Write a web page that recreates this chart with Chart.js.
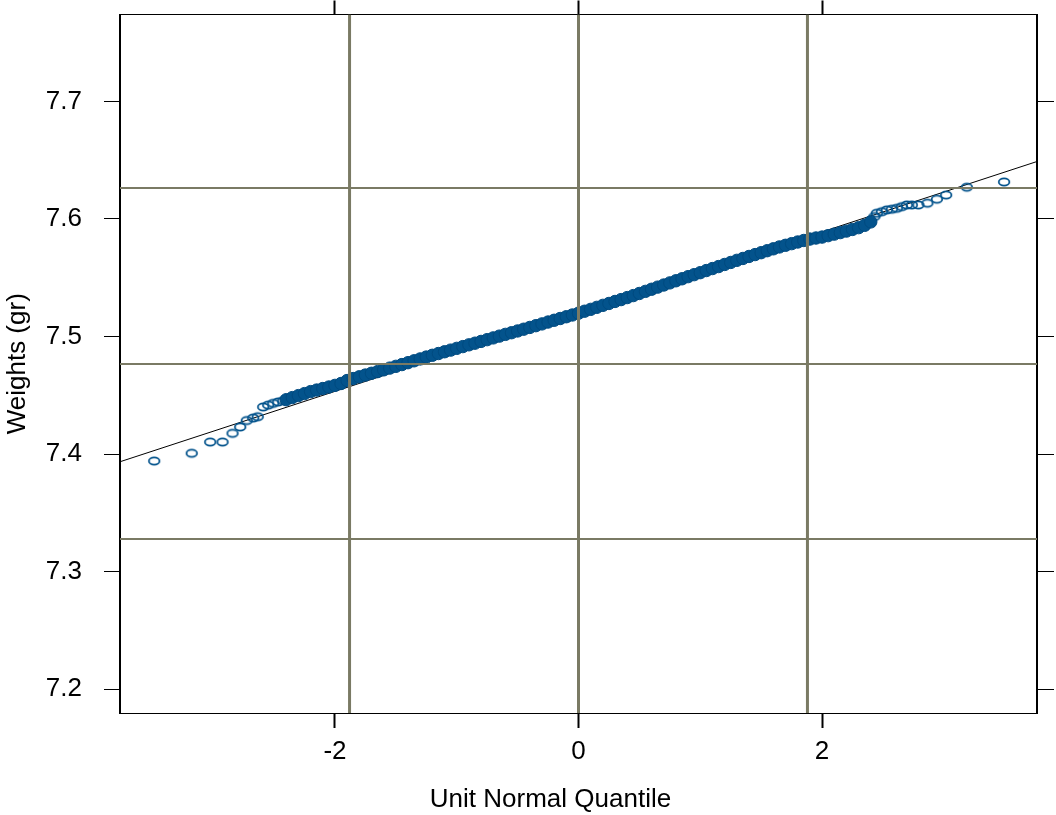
<!DOCTYPE html>
<html>
<head>
<meta charset="utf-8">
<script src="https://cdn.jsdelivr.net/npm/chart.js@4/dist/chart.umd.min.js"></script>
<style>
  html, body { margin: 0; padding: 0; background: #fff; }
  canvas { display: block; }
</style>
</head>
<body>
<canvas id="qq" width="1056" height="815"></canvas>
<script>
// axis setup
const xTicks = [-2, 0, 2];
const yTicks = [7.2, 7.3, 7.4, 7.5, 7.6, 7.7];
const xRange = [-3.765, 3.765];
const yRange = [7.1796, 7.774];

// reference lines (mean +/- sd style)
const refX = [-1.88, 0, 1.88];
const refY = [7.3277, 7.4766, 7.6264];

// fitted qq line end points
const lineX = [-3.765, 3.765];
const lineY = [7.3934, 7.6489];

// lower tail, single open circles
const lowTailX = [-3.484, -3.176, -3.024, -2.923, -2.841, -2.778, -2.724, -2.671, -2.634,
                  -2.589, -2.548, -2.507, -2.466, -2.424];
const lowTailY = [7.3940, 7.4006, 7.4102, 7.4102, 7.4176, 7.4230, 7.4285, 7.4306, 7.4317,
                  7.4400, 7.4416, 7.4431, 7.4443, 7.4454];

// dense middle band (read along the band)
const bandX = [-2.40, -2.35, -2.30, -2.25, -2.20, -2.15, -2.10, -2.05, -2.00, -1.95,
               -1.90, -1.85, -1.80, -1.75, -1.70, -1.65, -1.60, -1.55, -1.50, -1.45,
               -1.40, -1.35, -1.30, -1.25, -1.20, -1.15, -1.10, -1.05, -1.00, -0.95,
               -0.90, -0.85, -0.80, -0.75, -0.70, -0.65, -0.60, -0.55, -0.50, -0.45,
               -0.40, -0.35, -0.30, -0.25, -0.20, -0.15, -0.10, -0.05, 0.00, 0.05,
               0.10, 0.15, 0.20, 0.25, 0.30, 0.35, 0.40, 0.45, 0.50, 0.55,
               0.60, 0.65, 0.70, 0.75, 0.80, 0.85, 0.90, 0.95, 1.00, 1.05,
               1.10, 1.15, 1.20, 1.25, 1.30, 1.35, 1.40, 1.45, 1.50, 1.55,
               1.60, 1.65, 1.70, 1.75, 1.80, 1.85, 1.90, 1.95, 2.00, 2.05,
               2.10, 2.15, 2.20, 2.25, 2.30, 2.35, 2.40];
const bandY = [7.4462, 7.4480, 7.4497, 7.4514, 7.4531, 7.4544, 7.4557, 7.4570, 7.4584, 7.4600,
               7.4625, 7.4642, 7.4657, 7.4672, 7.4687, 7.4701, 7.4716, 7.4731, 7.4746, 7.4761,
               7.4777, 7.4793, 7.4809, 7.4825, 7.4840, 7.4855, 7.4870, 7.4884, 7.4899, 7.4914,
               7.4929, 7.4943, 7.4958, 7.4973, 7.4988, 7.5003, 7.5018, 7.5032, 7.5047, 7.5062,
               7.5077, 7.5092, 7.5107, 7.5123, 7.5138, 7.5153, 7.5168, 7.5183, 7.5198, 7.5215,
               7.5231, 7.5248, 7.5265, 7.5281, 7.5298, 7.5314, 7.5331, 7.5348, 7.5366, 7.5384,
               7.5402, 7.5420, 7.5438, 7.5456, 7.5474, 7.5491, 7.5509, 7.5526, 7.5543, 7.5561,
               7.5578, 7.5595, 7.5613, 7.5630, 7.5648, 7.5664, 7.5681, 7.5697, 7.5713, 7.5730,
               7.5746, 7.5762, 7.5776, 7.5790, 7.5804, 7.5817, 7.5829, 7.5838, 7.5846, 7.5858,
               7.5871, 7.5884, 7.5897, 7.5911, 7.5926, 7.5946, 7.5975];

// upper tail, single open circles
const highTailX = [2.430, 2.450, 2.491, 2.532, 2.573, 2.614, 2.655, 2.696, 2.737, 2.791,
                   2.865, 2.943, 3.019, 3.189, 3.495];
const highTailY = [7.6020, 7.6049, 7.6062, 7.6077, 7.6083, 7.6091, 7.6105, 7.6119, 7.6119, 7.6119,
                   7.6134, 7.6168, 7.6204, 7.6270, 7.6315];

const pts = (xs, ys) => xs.map((x, i) => ({ x: x, y: ys[i] }));

const DOT = '#03538c';
const GRID = '#7a7a64';
const FONT = { family: '"Liberation Sans", Arial, sans-serif', size: 26 };

// open ellipse marker, a bit wider than tall like the original
function ring(color) {
    const c = document.createElement('canvas');
    c.width = 16;
    c.height = 12;
    const g = c.getContext('2d');
    g.strokeStyle = color;
    g.lineWidth = 1.8;
    g.beginPath();
    g.ellipse(8, 6, 5.3, 3.6, 0, 0, Math.PI * 2);
    g.stroke();
    return c;
}
const ringMark = ring(DOT);

const datasets = [];

// reference lines sit on top of the points, like in the original
refX.forEach(v => datasets.push({
    data: [{ x: v, y: yRange[0] }, { x: v, y: yRange[1] }],
    showLine: true, borderColor: GRID, borderWidth: 3, pointRadius: 0, order: 1
}));
refY.forEach(v => datasets.push({
    data: [{ x: xRange[0], y: v }, { x: xRange[1], y: v }],
    showLine: true, borderColor: GRID, borderWidth: 2, pointRadius: 0, order: 1
}));

datasets.push({
    data: pts(bandX, bandY),
    pointStyle: 'circle', pointRadius: 6.2, borderWidth: 1,
    borderColor: '#004a80', backgroundColor: DOT, order: 3
});
datasets.push({ data: pts(lowTailX, lowTailY), pointStyle: ringMark, order: 3 });
datasets.push({ data: pts(highTailX, highTailY), pointStyle: ringMark, order: 3 });

// qq line goes underneath the band
datasets.push({
    data: pts(lineX, lineY),
    showLine: true, borderColor: '#000', borderWidth: 1, pointRadius: 0, order: 4
});

const setTicks = list => scale => { scale.ticks = list.map(v => ({ value: v })); };
// fixed box sizes so the plot frame lands where the original has it
const fixH = h => s => { s.height = h; s.paddingLeft = 0; s.paddingRight = 0; };
const fixW = w => s => { s.width = w; s.paddingTop = 0; s.paddingBottom = 0; };

// x label is centred a little left of the panel in the original
const xTitle = {
    id: 'xTitle',
    afterDraw(chart) {
        const s = chart.scales.x;
        const ctx = chart.ctx;
        ctx.save();
        ctx.font = FONT.size + 'px ' + FONT.family;
        ctx.fillStyle = '#000';
        ctx.textAlign = 'center';
        ctx.textBaseline = 'middle';
        ctx.fillText('Unit Normal Quantile', (s.left + s.right) / 2 - 28, s.bottom - 15);
        ctx.restore();
    }
};

new Chart(document.getElementById('qq'), {
    type: 'scatter',
    data: { datasets: datasets },
    plugins: [xTitle],
    options: {
        responsive: false,
        animation: false,
        devicePixelRatio: 1,
        layout: { padding: 0 },
        plugins: { legend: { display: false }, tooltip: { enabled: false } },
        scales: {
            x: {
                type: 'linear', position: 'bottom', min: xRange[0], max: xRange[1],
                afterBuildTicks: setTicks(xTicks),
                afterFit: fixH(102),
                grid: { drawOnChartArea: false, tickLength: 15, tickWidth: 2, color: '#000' },
                border: { display: true, color: '#000', width: 1 },
                ticks: { font: FONT, color: '#000', padding: 8, maxRotation: 0, callback: v => String(v) }
            },
            x2: {
                type: 'linear', position: 'top', min: xRange[0], max: xRange[1],
                afterBuildTicks: setTicks(xTicks),
                afterFit: fixH(14.5),
                grid: { drawOnChartArea: false, tickLength: 14, tickWidth: 2, color: '#000' },
                border: { display: true, color: '#000', width: 1 },
                ticks: { display: false }
            },
            y: {
                type: 'linear', position: 'left', min: yRange[0], max: yRange[1],
                afterBuildTicks: setTicks(yTicks),
                afterFit: fixW(120),
                grid: { drawOnChartArea: false, tickLength: 16, tickWidth: 1, color: '#000' },
                border: { display: true, color: '#000', width: 2 },
                ticks: { font: FONT, color: '#000', padding: 22, callback: v => v.toFixed(1) },
                title: { display: true, text: 'Weights (gr)', font: FONT, color: '#000', padding: { top: 2, bottom: 0 } }
            },
            y2: {
                type: 'linear', position: 'right', min: yRange[0], max: yRange[1],
                afterBuildTicks: setTicks(yTicks),
                afterFit: fixW(19),
                grid: { drawOnChartArea: false, tickLength: 17, tickWidth: 1, color: '#000' },
                border: { display: true, color: '#000', width: 2 },
                ticks: { display: false }
            }
        }
    }
});
</script>
</body>
</html>
